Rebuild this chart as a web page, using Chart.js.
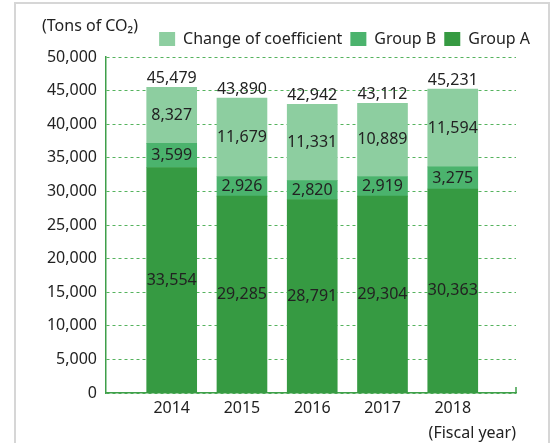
<!DOCTYPE html>
<html>
<head>
<meta charset="utf-8">
<script src="https://cdn.jsdelivr.net/npm/chart.js@4.4.0/dist/chart.umd.min.js"></script>
<style>
  html, body { margin: 0; padding: 0; background: #fff; }
  #frame { position: absolute; left: 14px; top: 2px; width: 532px; height: 470px; border: 2px solid #d6d6d6; }
  #chart { position: absolute; left: 0; top: 0; }
</style>
</head>
<body>
<div id="frame"></div>
<canvas id="chart" width="552" height="443"></canvas>
<script>
const years = ["2014", "2015", "2016", "2017", "2018"];
const groupA = [33554, 29285, 28791, 29304, 30363];
const groupB = [3599, 2926, 2820, 2919, 3275];
const coefChange = [8327, 11679, 11331, 10889, 11594];
const totals = [45479, 43890, 42942, 43112, 45231];

const FONT = "'Noto Sans', sans-serif";
const TEXT = "#222";
const AXIS = "#3f9f4a";

const fmt = (v) => Number(v).toLocaleString("en-US");
const points = (arr) => arr.map((v, i) => ({ x: i, y: v }));

// draws the numbers on the bars, the totals and the unit text
const labelPlugin = {
  id: "barLabels",
  afterDatasetsDraw(chart) {
    const ctx = chart.ctx;
    ctx.save();
    ctx.font = "16px " + FONT;
    ctx.fillStyle = TEXT;
    ctx.textAlign = "center";
    ctx.textBaseline = "middle";
    chart.data.datasets.forEach((ds, i) => {
      chart.getDatasetMeta(i).data.forEach((bar, j) => {
        const { x, y, base } = bar.getProps(["x", "y", "base"], true);
        ctx.fillText(fmt(ds.data[j].y), x, (y + base) / 2);
      });
    });
    const topMeta = chart.getDatasetMeta(chart.data.datasets.length - 1);
    ctx.textBaseline = "bottom";
    topMeta.data.forEach((bar, j) => {
      ctx.fillText(fmt(totals[j]), bar.x, bar.y - 1);
    });

    ctx.textAlign = "left";
    ctx.textBaseline = "middle";
    ctx.fillText("(Tons of CO\u2082)", 42, 26);

    // little upturn at the end of the x axis
    const area = chart.chartArea;
    ctx.strokeStyle = AXIS;
    ctx.lineWidth = 1.5;
    ctx.beginPath();
    ctx.moveTo(area.right, area.bottom);
    ctx.lineTo(area.right, area.bottom - 6);
    ctx.stroke();
    ctx.restore();
  },
};

document.addEventListener("readystatechange", (event) => {
  if (event.target.readyState === "complete") {
    initApp();
  }
});

const initApp = () => {
  const font = { family: FONT, size: 16 };
  new Chart(document.getElementById("chart").getContext("2d"), {
    type: "bar",
    data: {
      datasets: [
        { label: "Group A", data: points(groupA), backgroundColor: "#369a42" },
        { label: "Group B", data: points(groupB), backgroundColor: "#4bb36d" },
        { label: "Change of coefficient", data: points(coefChange), backgroundColor: "#8dcea0" },
      ],
    },
    options: {
      responsive: false,
      animation: false,
      barThickness: 50,
      layout: { padding: { top: 23, right: 14, left: 0, bottom: 0 } },
      plugins: {
        tooltip: { enabled: false },
        legend: {
          position: "top",
          align: "end",
          reverse: true,
          labels: { boxWidth: 16, boxHeight: 14, padding: 8, font, color: TEXT },
        },
      },
      scales: {
        x: {
          type: "linear",
          stacked: true,
          offset: false,
          min: -0.935,
          max: 4.9,
          afterBuildTicks: (s) => {
            s.ticks = years.map((_, i) => ({ value: i }));
          },
          ticks: {
            callback: (v) => years[v],
            padding: 6,
            font,
            color: TEXT,
            autoSkip: false,
            maxRotation: 0,
          },
          grid: { display: false, drawTicks: false, offset: false },
          border: { color: AXIS, width: 1.5 },
          title: {
            display: true,
            text: "(Fiscal year)",
            align: "end",
            padding: { top: 5, bottom: 0 },
            font,
            color: TEXT,
          },
          afterFit: (s) => {
            s.height = 50;
          },
        },
        y: {
          stacked: true,
          min: 0,
          max: 50000,
          ticks: { stepSize: 5000, padding: 9, font, color: TEXT, callback: (v) => fmt(v) },
          grid: { color: "#55b35e", lineWidth: 1, drawTicks: false },
          border: { color: AXIS, width: 1.5, dash: [3, 3] },
          afterFit: (s) => {
            s.width = 106;
          },
        },
        y2: {
          type: "linear",
          position: "right",
          display: true,
          grid: { display: false, drawTicks: false },
          border: { display: false },
          ticks: { display: false },
          afterFit: (s) => {
            s.width = 22;
          },
        },
      },
    },
    plugins: [labelPlugin],
  });
};
</script>
</body>
</html>
